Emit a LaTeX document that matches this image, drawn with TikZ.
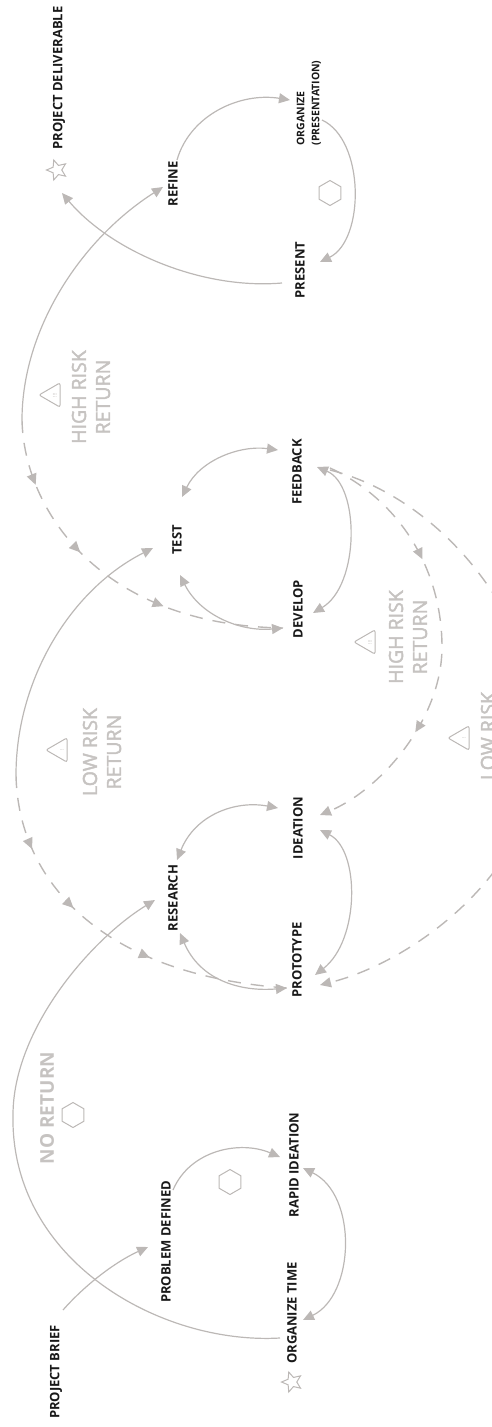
\documentclass[tikz,border=0pt]{standalone}
\usepackage{fontspec}
\setmainfont{Open Sans}
\newfontfamily\retfont[FakeBold=2.2]{Open Sans}
\usetikzlibrary{arrows.meta,shapes.geometric,decorations.markings}
\definecolor{lg}{RGB}{188,184,182}
\definecolor{tg}{RGB}{198,195,193}
\definecolor{ink}{RGB}{25,25,25}
\tikzset{
  lbl/.style={font=\fontsize{13}{15}\selectfont\bfseries, text=ink, rotate=90, inner sep=0pt},
  ret/.style={font=\fontsize{19.5}{24}\selectfont\retfont, text=tg, rotate=90, align=center, inner sep=0pt},
  conn/.style={draw=lg, line width=1.2pt},
  dashline/.style={draw=lg, line width=1.4pt, dash pattern=on 13pt off 10pt},
  starmark/.style={star, star points=5, star point ratio=2.2, minimum size=21pt, inner sep=0pt, draw=lg, line width=1pt, rotate=90},
  hexmark/.style={regular polygon, regular polygon sides=6, minimum size=25pt, inner sep=0pt, draw=lg, line width=1pt, rotate=90},
  trimark/.style={regular polygon, regular polygon sides=3, minimum size=28pt, inner sep=0pt, draw=lg, line width=1pt, rotate=90, rounded corners=2pt},
  trilbl/.style={font=\fontsize{5}{5}\selectfont, text=tg, rotate=90, inner sep=0pt}
}
\begin{document}
\begin{tikzpicture}[x=1pt,y=-1pt, >={Triangle[length=11pt,width=10pt]}]
\useasboundingbox (0,0) rectangle (492,1427);
\clip (0,0) rectangle (492,1427);

% ---- labels
\node[lbl] (brief) at (56,1372) {PROJECT BRIEF};
\node[lbl] (problem) at (166,1242) {PROBLEM DEFINED};
\node[lbl] (rapid) at (294,1165) {RAPID IDEATION};
\node[lbl] (orgtime) at (292,1313) {ORGANIZE TIME};
\node[starmark] (orgstar) at (292,1382) {};
\node[lbl] (research) at (173,898) {RESEARCH};
\node[lbl] (ideation) at (298,828) {IDEATION};
\node[lbl] (prototype) at (297,960) {PROTOTYPE};
\node[lbl] (test) at (177,540) {TEST};
\node[lbl] (feedback) at (297,472) {FEEDBACK};
\node[lbl] (develop) at (298,609) {DEVELOP};
\node[lbl] (refine) at (173,184) {REFINE};
\node[lbl, font=\fontsize{10.5}{15}\selectfont\bfseries, align=left] (organize) at (309,103) {ORGANIZE\\(PRESENTATION)};
\node[lbl] (present) at (300,270) {PRESENT};
\node[lbl] (deliverable) at (59,78) {PROJECT DELIVERABLE};
\node[starmark] (delivstar) at (57,170) {};

% ---- hexagons
\node[hexmark] (hexa) at (230,1182) {};
\node[hexmark] (hexb) at (73,1115) {};
\node[hexmark] (hexc) at (330,193) {};

% ---- return labels
\node[ret, font=\fontsize{19}{24}\selectfont\bfseries] (noret) at (47,1108) {NO RETURN};
\node[ret] (hrl) at (91,397) {HIGH RISK\\RETURN};
\node[ret] (lrl) at (102,752) {LOW RISK\\RETURN};
\node[ret] (hrr) at (408,637) {HIGH RISK\\RETURN};
\node[ret] (lrr) at (500,736) {LOW RISK\\RETURN};
\node[trimark] (trihl) at (53,395) {};
\node[trilbl] (trihlm) at (55,395) {!!!};
\node[trimark] (trill) at (60,750) {};
\node[trilbl] (trillm) at (62,750) {!};
\node[trimark] (trihr) at (368,642) {};
\node[trilbl] (trihrm) at (370,642) {!!!};
\node[trimark] (trilr) at (462,738) {};
\node[trilbl] (trilrm) at (464,738) {!};

% ---- module 1
\draw[conn,->] ([shift={(7,-62)}]brief.center) .. controls (85,1285) and (115,1262) .. ([shift={(-18,5)}]problem.center);
\draw[conn,->] ([shift={(7,-52)}]problem.center) .. controls (190,1150) and (240,1140) .. ([shift={(-14,-8)}]rapid.center);
\draw[conn,<->] ([shift={(11,7)}]orgtime.center) .. controls (355,1295) and (358,1195) .. ([shift={(9,3)}]rapid.center);
\draw[conn,->] ([shift={(-12,25)}]orgtime.center) .. controls (160,1345) and (10,1260) .. (13,1115) .. controls (13,1030) and (90,940) .. ([shift={(-18,2)}]research.center);

% ---- module 2
\draw[conn,<->] ([shift={(4,-38)}]research.center) .. controls (195,815) and (235,800) .. ([shift={(-20,-20)}]ideation.center);
\draw[conn,<->] ([shift={(7,35)}]research.center) .. controls (200,980) and (240,992) .. ([shift={(-10,28)}]prototype.center);
\draw[conn,<->] ([shift={(22,2)}]ideation.center) .. controls (360,850) and (360,940) .. ([shift={(18,15)}]prototype.center);

% ---- module 3
\draw[conn,<->] ([shift={(5,-43)}]test.center) .. controls (200,460) and (240,445) .. ([shift={(-19,-22)}]feedback.center);
\draw[conn,<->] ([shift={(3,35)}]test.center) .. controls (200,615) and (240,632) .. ([shift={(-15,19)}]develop.center);
\draw[conn,<->] ([shift={(20,-5)}]feedback.center) .. controls (360,485) and (360,585) .. ([shift={(15,4)}]develop.center);

% ---- module 4
\draw[conn,->] ([shift={(4,-24)}]refine.center) .. controls (190,115) and (240,92) .. ([shift={(-19,-3)}]organize.center);
\draw[conn,->] ([shift={(13,17)}]organize.center) .. controls (365,140) and (365,240) .. ([shift={(20,-8)}]present.center);
\draw[conn,->] ([shift={(-18,13)}]present.center) .. controls (200,290) and (110,250) .. ([shift={(5,23)}]delivstar.center);

% ---- big left arcs
\coordinate (apexB) at (22,420);
\coordinate (apexA) at (16,775);
\draw[conn,->] (apexB) .. controls (22,330) and (80,240) .. ([shift={(-10,3)}]refine.center);
\draw[dashline, postaction={decorate}, decoration={markings,
   mark=at position 0.18 with {\arrow{>}},
   mark=at position 0.40 with {\arrow{>}},
   mark=at position 0.67 with {\arrow{>}}}]
  (apexB) .. controls (24,510) and (100,625) .. ([shift={(-15,19)}]develop.center);
\draw[conn,->] (apexA) .. controls (16,680) and (70,590) .. ([shift={(-24,8)}]test.center);
\draw[dashline, postaction={decorate}, decoration={markings,
   mark=at position 0.20 with {\arrow{>}},
   mark=at position 0.39 with {\arrow{>}},
   mark=at position 0.63 with {\arrow{>}}}]
  (apexA) .. controls (18,880) and (100,975) .. ([shift={(-10,28)}]prototype.center);

% ---- right dashed returns
\draw[dashline, ->, postaction={decorate}, decoration={markings,
   mark=at position 0.30 with {\arrow{>}},
   mark=at position 0.71 with {\arrow{>}}}]
  ([shift={(33,-4)}]feedback.center) .. controls (400,500) and (442,570) .. (442,647) .. controls (442,720) and (380,790) .. ([shift={(22,-13)}]ideation.center);
\draw[dashline, ->]
  ([shift={(33,-2)}]feedback.center) .. controls (430,495) and (530,600) .. (540,730) .. controls (550,860) and (420,960) .. ([shift={(23,25)}]prototype.center);
\end{tikzpicture}
\end{document}
